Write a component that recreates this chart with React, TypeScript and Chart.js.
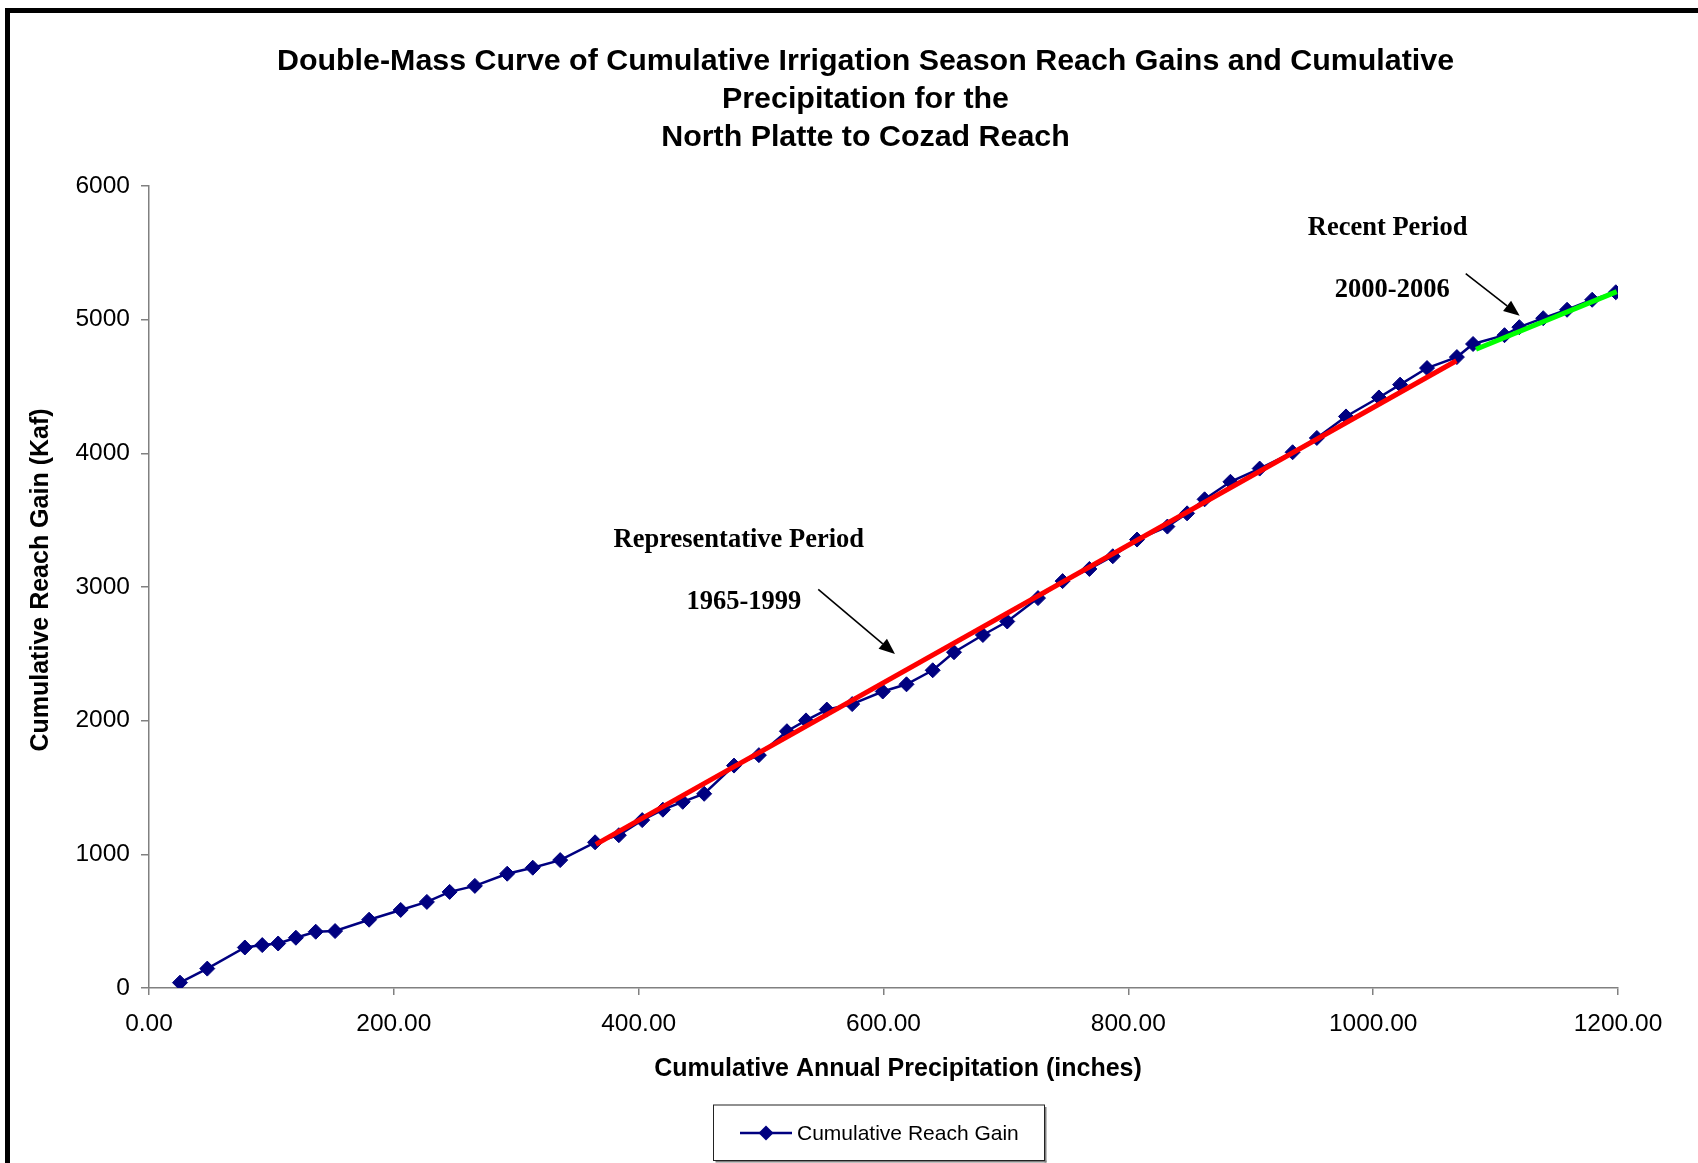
import React, { useEffect, useRef } from 'react';
import { Chart, registerables } from 'chart.js';

Chart.register(...registerables);

const W = 1698;
const H = 1163;

// Years 1949-2006
const years = [
  1949, 1950, 1951, 1952, 1953, 1954, 1955, 1956, 1957, 1958, 1959, 1960, 1961, 1962, 1963, 1964,
  1965, 1966, 1967, 1968, 1969, 1970, 1971, 1972, 1973, 1974, 1975, 1976, 1977, 1978, 1979, 1980,
  1981, 1982, 1983, 1984, 1985, 1986, 1987, 1988, 1989, 1990, 1991, 1992, 1993, 1994, 1995, 1996,
  1997, 1998, 1999, 2000, 2001, 2002, 2003, 2004, 2005, 2006,
];

const cumulativePrecip = [
  25.3, 47.6, 78.3, 92.5, 105.5, 120, 136.2, 152, 179.8, 205.6, 227, 245.6, 266.2, 292.6, 313.5, 335.9,
  364.4, 383.8, 402.9, 419.8, 436, 453.5, 477.9, 498.2, 521.1, 536.7, 553.7, 574.4, 599.4, 618.8, 640.2, 657.6,
  681.2, 701.1, 726.2, 746.3, 768.2, 787.3, 807.1, 831.9, 848, 862.3, 883.4, 907.3, 934.2, 954, 977.8, 1004.7,
  1022, 1044, 1068.4, 1081.6, 1107.3, 1119.4, 1138.9, 1158.4, 1178.9, 1198.2,
];

const cumulativeGain = [
  40, 145, 303, 321, 333, 376, 421, 426, 511, 584, 644, 719, 764, 855, 900, 957,
  1090, 1143, 1256, 1334, 1393, 1453, 1664, 1742, 1921, 2002, 2083, 2124, 2218, 2272, 2377, 2512,
  2641, 2742, 2917, 3044, 3135, 3230, 3355, 3452, 3551, 3656, 3787, 3886, 4008, 4115, 4276, 4418,
  4514, 4638, 4720, 4818, 4884, 4944, 5011, 5074, 5149, 5205,
];

// Trend lines (endpoints)
const representativeTrendX = [365, 1068];
const representativeTrendY = [1075, 4693];
const recentTrendX = [1084, 1199];
const recentTrendY = [4779, 5210];

const titleLines = [
  'Double-Mass Curve of Cumulative Irrigation Season Reach Gains and Cumulative',
  'Precipitation for the',
  'North Platte to Cozad Reach',
];
const xAxisTitle = 'Cumulative Annual Precipitation (inches)';
const yAxisTitle = 'Cumulative Reach Gain (Kaf)';
const seriesLabel = 'Cumulative Reach Gain';

// Annotations in data coordinates
const annotationTexts = [
  { text: 'Representative Period', x: 481.8, y: 3348 },
  { text: '1965-1999', x: 485.9, y: 2886 },
  { text: 'Recent Period', x: 1011.8, y: 5681 },
  { text: '2000-2006', x: 1015.6, y: 5220 },
];
const annotationArrows = [
  { x1: 546.7, y1: 2982, x2: 609.4, y2: 2498 },
  { x1: 1075.6, y1: 5344, x2: 1119.7, y2: 5029 },
];

const SANS = '"Liberation Sans", Arial, sans-serif';
const SERIF = '"Liberation Serif", "Times New Roman", serif';
const NAVY = '#000080';

const decorPlugin = {
  id: 'decor',
  beforeDraw(chart: any) {
    const ctx = chart.ctx;
    ctx.save();
    ctx.fillStyle = '#ffffff';
    ctx.fillRect(0, 0, W, H);
    ctx.restore();
  },
  afterDraw(chart: any) {
    const ctx = chart.ctx;
    const xs = chart.scales.x;
    const ys = chart.scales.y;
    ctx.save();

    // outer frame
    ctx.fillStyle = '#000';
    ctx.fillRect(5, 8, 5, H - 8);
    ctx.fillRect(5, 8, W - 5, 5);

    // title
    ctx.fillStyle = '#000';
    ctx.font = `bold 30.4px ${SANS}`;
    ctx.textAlign = 'center';
    ctx.textBaseline = 'middle';
    const titleY = [61.8, 99.7, 137.6];
    titleLines.forEach((l, i) => ctx.fillText(l, 865.5, titleY[i]));

    // axis titles
    ctx.font = `bold 25px ${SANS}`;
    ctx.fillText(xAxisTitle, 898, 1069);
    ctx.save();
    ctx.translate(41, 580);
    ctx.rotate(-Math.PI / 2);
    ctx.fillText(yAxisTitle, 0, 0);
    ctx.restore();

    // annotations
    ctx.font = `bold 26.5px ${SERIF}`;
    annotationTexts.forEach((a) => {
      ctx.fillText(a.text, xs.getPixelForValue(a.x), ys.getPixelForValue(a.y));
    });
    ctx.strokeStyle = '#000';
    ctx.lineWidth = 1.6;
    annotationArrows.forEach((a) => {
      const x1 = xs.getPixelForValue(a.x1);
      const y1 = ys.getPixelForValue(a.y1);
      const x2 = xs.getPixelForValue(a.x2);
      const y2 = ys.getPixelForValue(a.y2);
      const ang = Math.atan2(y2 - y1, x2 - x1);
      const hl = 16;
      const hw = 6.5;
      const bx = x2 - hl * Math.cos(ang);
      const by = y2 - hl * Math.sin(ang);
      ctx.beginPath();
      ctx.moveTo(x1, y1);
      ctx.lineTo(bx, by);
      ctx.stroke();
      ctx.beginPath();
      ctx.moveTo(x2, y2);
      ctx.lineTo(bx + hw * Math.sin(ang), by - hw * Math.cos(ang));
      ctx.lineTo(bx - hw * Math.sin(ang), by + hw * Math.cos(ang));
      ctx.closePath();
      ctx.fill();
    });

    // legend
    const lx = 713.5, ly = 1105, lw = 331, lh = 55.5;
    ctx.fillStyle = '#808080';
    ctx.fillRect(lx + 2, ly + lh, lw, 2);
    ctx.fillRect(lx + lw, ly + 2, 2, lh);
    ctx.strokeStyle = '#222';
    ctx.lineWidth = 1;
    ctx.strokeRect(lx, ly, lw, lh);
    const cy = 1133;
    ctx.strokeStyle = NAVY;
    ctx.lineWidth = 2.5;
    ctx.beginPath();
    ctx.moveTo(740, cy);
    ctx.lineTo(792, cy);
    ctx.stroke();
    ctx.fillStyle = NAVY;
    ctx.beginPath();
    ctx.moveTo(766, cy - 7.5);
    ctx.lineTo(773.5, cy);
    ctx.lineTo(766, cy + 7.5);
    ctx.lineTo(758.5, cy);
    ctx.closePath();
    ctx.fill();
    ctx.fillStyle = '#000';
    ctx.font = `21px ${SANS}`;
    ctx.textAlign = 'left';
    ctx.fillText(seriesLabel, 797, cy + 1.5);

    ctx.restore();
  },
};

export default function App() {
  const ref = useRef<HTMLCanvasElement | null>(null);

  useEffect(() => {
    if (!ref.current) return;
    const mainData = cumulativePrecip.map((x, i) => ({ x, y: cumulativeGain[i] }));
    const repData = representativeTrendX.map((x, i) => ({ x, y: representativeTrendY[i] }));
    const recData = recentTrendX.map((x, i) => ({ x, y: recentTrendY[i] }));

    const chart = new Chart(ref.current, {
      type: 'line',
      data: {
        datasets: [
          {
            label: seriesLabel,
            data: mainData,
            borderColor: NAVY,
            backgroundColor: NAVY,
            borderWidth: 2.5,
            pointStyle: 'rectRot',
            pointRadius: 7.5,
            pointBorderWidth: 1,
            pointBackgroundColor: NAVY,
            pointBorderColor: NAVY,
            order: 3,
            tension: 0,
          },
          {
            label: 'Representative Period 1965-1999',
            data: repData,
            borderColor: '#ff0000',
            borderWidth: 5,
            pointRadius: 0,
            order: 1,
          },
          {
            label: 'Recent Period 2000-2006',
            data: recData,
            borderColor: '#00ff00',
            borderWidth: 5,
            pointRadius: 0,
            order: 2,
          },
        ],
      },
      options: {
        responsive: false,
        animation: false,
        devicePixelRatio: 1,
        layout: { padding: { left: 0, top: 186, right: 80, bottom: 95 } },
        plugins: {
          legend: { display: false },
          title: { display: false },
          tooltip: { enabled: false },
        },
        scales: {
          x: {
            type: 'linear',
            min: 0,
            max: 1200,
            afterFit: (s: any) => { s.height = 80; },
            ticks: {
              stepSize: 200,
              color: '#000',
              font: { family: SANS, size: 24.5 },
              padding: 15,
              maxRotation: 0,
              callback: (v: any) => Number(v).toFixed(2),
            },
            grid: { display: true, drawOnChartArea: false, drawTicks: true, tickLength: 7, color: '#808080', lineWidth: 1.5 },
            border: { display: true, color: '#808080', width: 1.5 },
          },
          y: {
            type: 'linear',
            min: 0,
            max: 6000,
            afterFit: (s: any) => { s.width = 149; },
            ticks: {
              stepSize: 1000,
              color: '#000',
              font: { family: SANS, size: 24.5 },
              padding: 11,
              callback: (v: any) => String(v),
            },
            grid: { display: true, drawOnChartArea: false, drawTicks: true, tickLength: 8, color: '#808080', lineWidth: 1.5 },
            border: { display: true, color: '#808080', width: 1.5 },
          },
        },
      },
      plugins: [decorPlugin],
    });
    return () => chart.destroy();
  }, []);

  return (
    <div style={{ position: 'absolute', left: 0, top: 0, width: W, height: H, background: '#fff' }}>
      <canvas ref={ref} width={W} height={H} style={{ display: 'block', width: W, height: H }} />
    </div>
  );
}
